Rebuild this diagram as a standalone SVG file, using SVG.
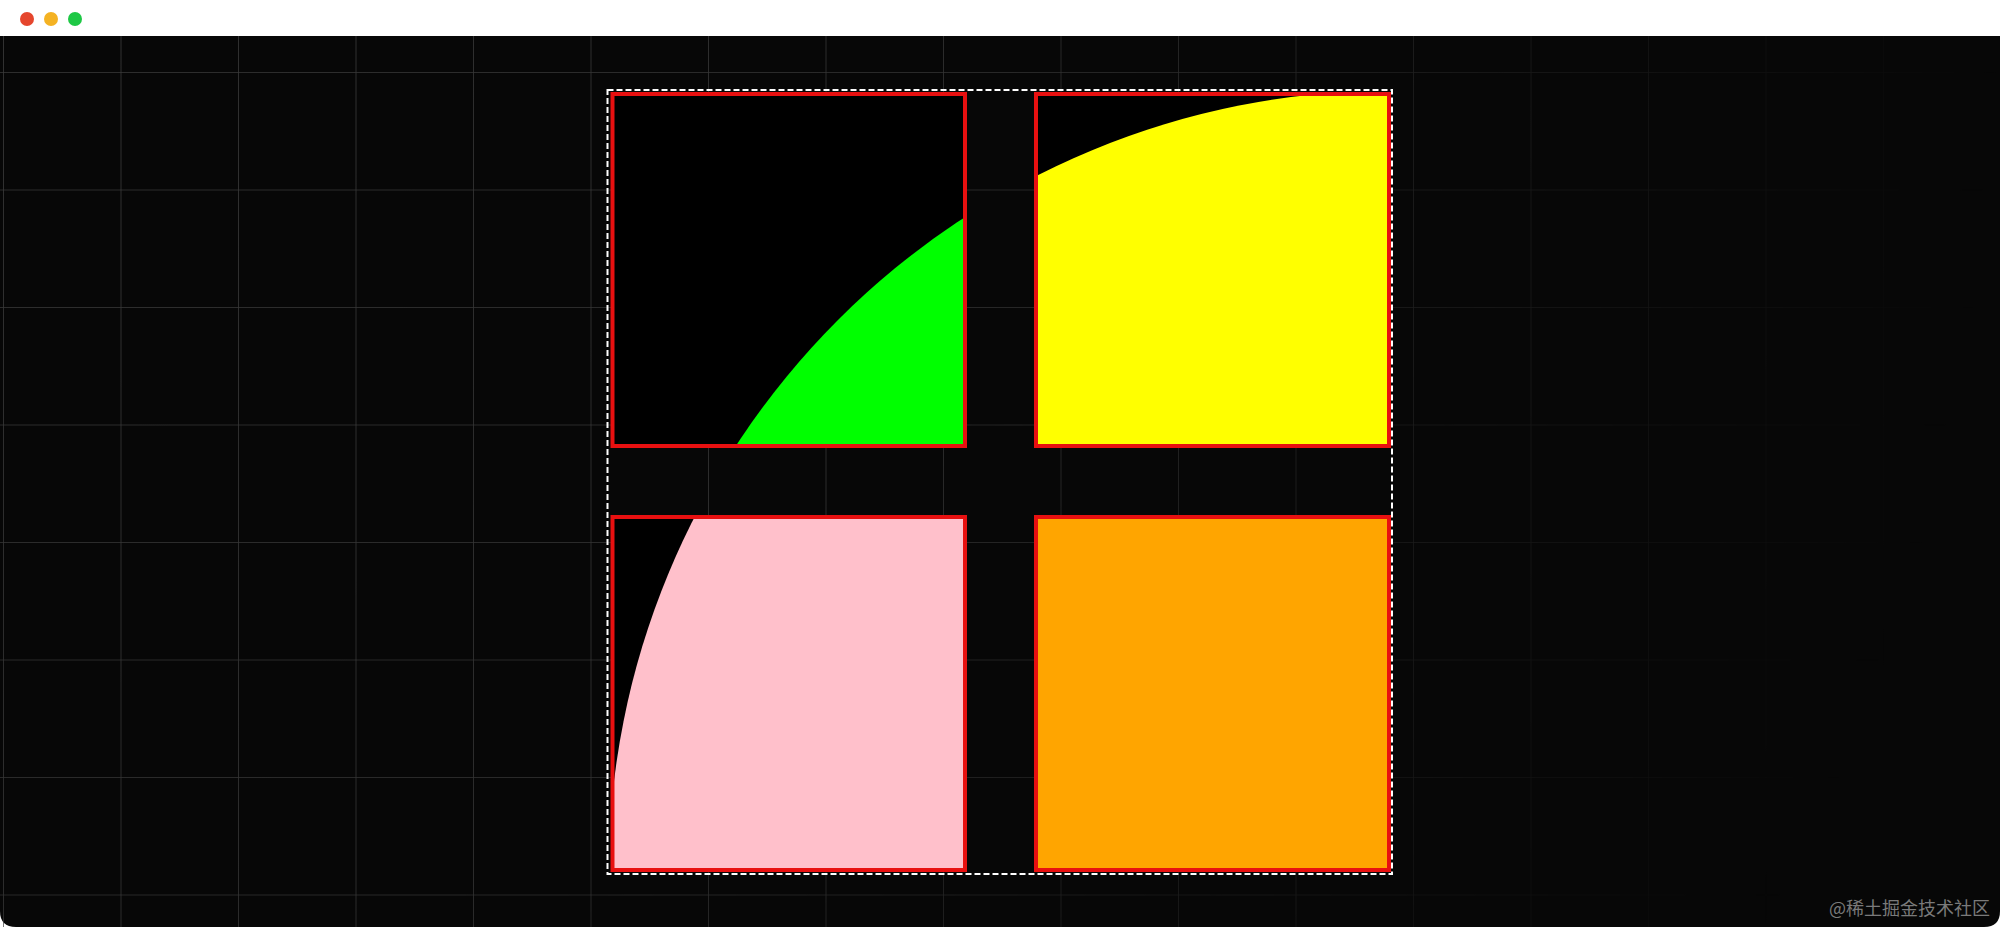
<svg xmlns="http://www.w3.org/2000/svg" width="2000" height="927" viewBox="0 0 2000 927">
  <style>
    .sq-bg { fill: #000000; }
    .sq-border { fill: none; stroke: #e81010; stroke-width: 4; }
    .grid-line { stroke: #3c3c3c; stroke-width: 1.6; }
    .dot { stroke: none; }
    .wm { font-family: "Noto Sans CJK SC", "Liberation Sans", sans-serif; font-size: 18px; fill: #7a7a7a; }
  </style>
  <defs>
    <pattern id="grid" x="3" y="72" width="117.5" height="117.5" patternUnits="userSpaceOnUse">
      <line class="grid-line" x1="0" y1="0" x2="0" y2="117.5"/>
      <line class="grid-line" x1="0" y1="0" x2="117.5" y2="0"/>
    </pattern>
    <radialGradient id="fade" cx="0" cy="0" r="2000" gradientUnits="userSpaceOnUse">
      <stop offset="0" stop-color="#fff" stop-opacity="1"/>
      <stop offset="0.5" stop-color="#fff" stop-opacity="0.85"/>
      <stop offset="0.8" stop-color="#fff" stop-opacity="0.3"/>
      <stop offset="1" stop-color="#fff" stop-opacity="0"/>
    </radialGradient>
    <mask id="gridMask">
      <rect x="0" y="36" width="2000" height="891" fill="url(#fade)"/>
    </mask>
    <clipPath id="corner">
      <circle cx="1392" cy="874" r="783.5"/>
    </clipPath>
  </defs>

  <!-- window frame -->
  <rect x="0" y="0" width="2000" height="927" fill="#ffffff"/>
  <path d="M0 36 H2000 V911 Q2000 927 1984 927 H16 Q0 927 0 911 Z" fill="#070707"/>
  <rect x="0" y="36" width="2000" height="891" fill="url(#grid)" mask="url(#gridMask)"/>
  <g id="window-dots">
    <circle class="dot" cx="27" cy="19" r="7" fill="#e5462d"/>
    <circle class="dot" cx="51" cy="19" r="7" fill="#f4b223"/>
    <circle class="dot" cx="75" cy="19" r="7" fill="#1ec845"/>
  </g>

  <!-- container outline -->
  <g id="container">
    <rect x="607.5" y="90" width="784.5" height="784" fill="none" stroke="#ffffff" stroke-width="2" stroke-dasharray="6 3"/>
  </g>

  <g id="box-green">
    <rect class="sq-bg" x="612.5" y="94" width="352.5" height="352"/>
    <rect x="612.5" y="94" width="352.5" height="352" fill="#00ff00" clip-path="url(#corner)"/>
    <rect class="sq-border" x="612.5" y="94" width="352.5" height="352"/>
  </g>
  <g id="box-yellow">
    <rect class="sq-bg" x="1036" y="94" width="353" height="352"/>
    <rect x="1036" y="94" width="353" height="352" fill="#ffff00" clip-path="url(#corner)"/>
    <rect class="sq-border" x="1036" y="94" width="353" height="352"/>
  </g>
  <g id="box-pink">
    <rect class="sq-bg" x="612.5" y="517" width="352.5" height="353"/>
    <rect x="612.5" y="517" width="352.5" height="353" fill="#ffc0cb" clip-path="url(#corner)"/>
    <rect class="sq-border" x="612.5" y="517" width="352.5" height="353"/>
  </g>
  <g id="box-orange">
    <rect class="sq-bg" x="1036" y="517" width="353" height="353"/>
    <rect x="1036" y="517" width="353" height="353" fill="#ffa500" clip-path="url(#corner)"/>
    <rect class="sq-border" x="1036" y="517" width="353" height="353"/>
  </g>

  <g id="connectors"></g>

  <text class="wm" x="1990" y="915" text-anchor="end">@稀土掘金技术社区</text>
</svg>
